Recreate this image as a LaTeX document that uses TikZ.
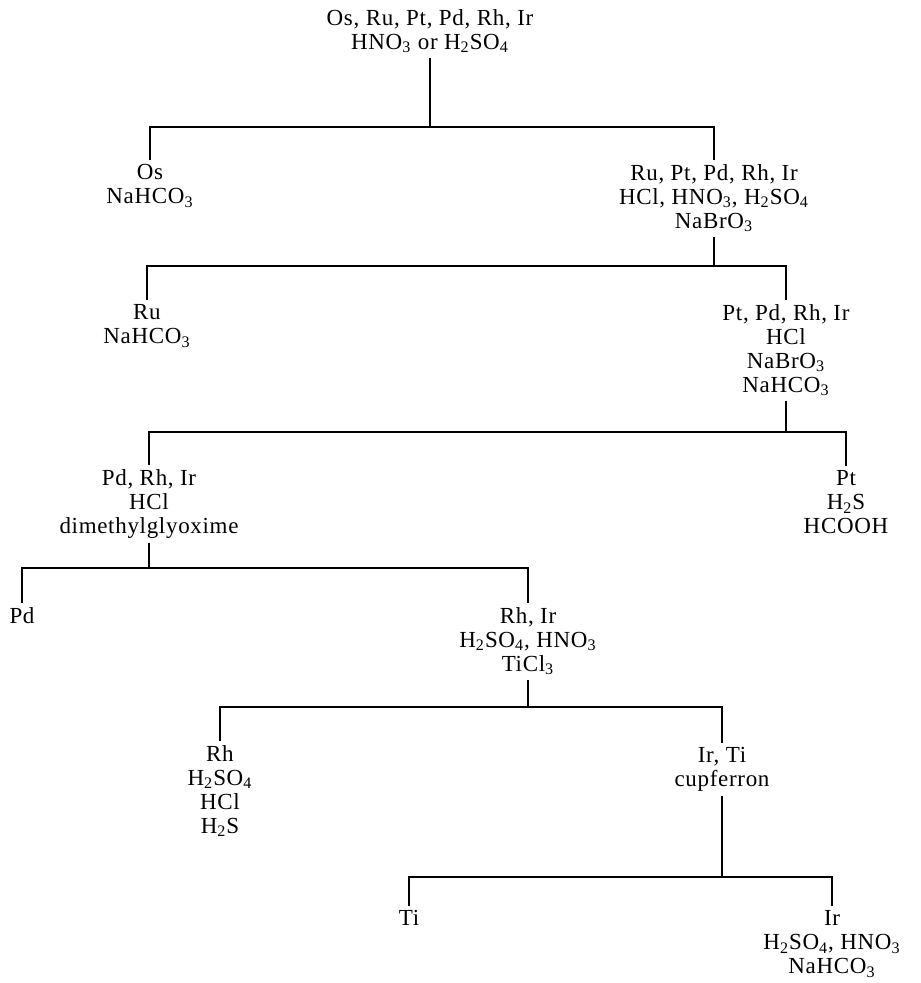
\documentclass[tikz,border=0pt]{standalone}
\usepackage{fontspec}
\setmainfont{Liberation Serif}[LetterSpace=3]
\usepackage{tikz}
\usetikzlibrary{calc,positioning}

\newcommand{\chsub}[1]{\textsubscript{#1}}

\tikzset{
  chem/.style={align=center,anchor=north,inner sep=2pt,
               font=\fontsize{11.5}{12}\selectfont},
  split/.style={line width=0.7pt}
}

\begin{document}
\begin{tikzpicture}[x=0.5pt,y=-0.5pt]
 \useasboundingbox (0,0) rectangle (920,983);
 % separation scheme
 \node[chem] (mix)   at (430,5)   {Os, Ru, Pt, Pd, Rh, Ir\\HNO\chsub{3} or H\chsub{2}SO\chsub{4}};
 \node[chem] (os)    at (150,160) {Os\\NaHCO\chsub{3}};
 \node[chem] (rest1) at (714,160) {Ru, Pt, Pd, Rh, Ir\\HCl, HNO\chsub{3}, H\chsub{2}SO\chsub{4}\\NaBrO\chsub{3}};
 \node[chem] (ru)    at (147,300) {Ru\\NaHCO\chsub{3}};
 \node[chem] (rest2) at (786,300) {Pt, Pd, Rh, Ir\\HCl\\NaBrO\chsub{3}\\NaHCO\chsub{3}};
 \node[chem] (rest3) at (149,465) {Pd, Rh, Ir\\HCl\\dimethylglyoxime};
 \node[chem] (pt)    at (846,466) {Pt\\H\chsub{2}S\\HCOOH};
 \node[chem] (pd)    at (22,603)  {Pd};
 \node[chem] (rhir)  at (528,603) {Rh, Ir\\H\chsub{2}SO\chsub{4}, HNO\chsub{3}\\TiCl\chsub{3}};
 \node[chem] (rh)    at (220,741) {Rh\\H\chsub{2}SO\chsub{4}\\HCl\\H\chsub{2}S};
 \node[chem] (irti)  at (722,743) {Ir, Ti\\cupferron};
 \node[chem] (ti)    at (409,906) {Ti};
 \node[chem] (ir)    at (832,906) {Ir\\H\chsub{2}SO\chsub{4}, HNO\chsub{3}\\NaHCO\chsub{3}};

 % brackets: parent / left / right / bar height
 \foreach \p/\a/\b/\y in {mix/os/rest1/127, rest1/ru/rest2/266, rest2/rest3/pt/432,
                          rest3/pd/rhir/568, rhir/rh/irti/707, irti/ti/ir/877}{
   \draw[split] (\p.south) -- (\p.south |- 0,\y);
   \draw[split] (\a.north) -- (\a.north |- 0,\y) -- (\b.north |- 0,\y) -- (\b.north);
 }
\end{tikzpicture}
\end{document}
